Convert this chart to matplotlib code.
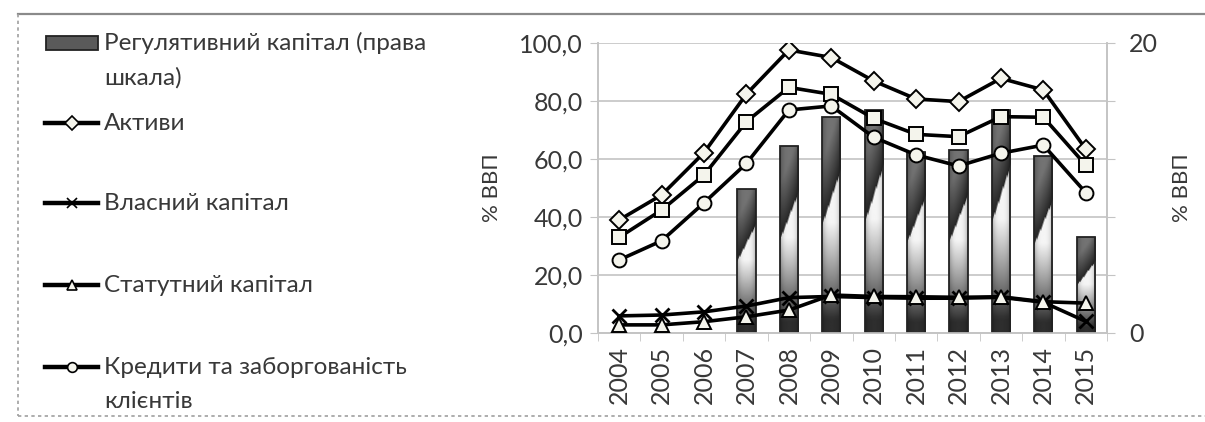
""" Bank sector indicators of Ukraine, % of GDP, 2004-2015 """

import numpy as np
import matplotlib.pyplot as plt
from matplotlib.lines import Line2D
from matplotlib.patches import Rectangle

plt.rcParams['font.family'] = ['Lato', 'DejaVu Sans']

## Data
years = ['2004', '2005', '2006', '2007', '2008', '2009',
         '2010', '2011', '2012', '2013', '2014', '2015']
reg_capital = [np.nan, np.nan, np.nan, 9.9, 12.9, 14.9,
               15.4, 12.5, 12.6, 15.4, 12.2, 6.6]          # right axis
assets = [39.0, 47.6, 62.2, 82.4, 97.6, 95.0, 86.9, 80.7, 79.8, 87.8, 83.8, 63.4]
liabilities = [33.0, 42.4, 54.5, 72.9, 84.7, 82.3, 74.0, 68.5, 67.7, 74.6, 74.4, 57.9]
loans = [25.2, 31.8, 44.9, 58.5, 76.9, 78.3, 67.5, 61.4, 57.6, 62.0, 64.8, 48.4]
equity = [5.9, 6.2, 7.3, 9.3, 12.2, 12.6, 12.2, 12.0, 12.0, 12.3, 10.6, 4.0]
charter = [2.8, 2.8, 3.9, 5.6, 7.9, 13.1, 12.6, 12.5, 12.3, 12.5, 10.8, 10.3]

legend_labels = [['Регулятивний капітал (права', 'шкала)'],
                 ['Активи'],
                 ['Власний капітал'],
                 ['Статутний капітал'],
                 ['Кредити та заборгованість', 'клієнтів']]

TXT = '#383838'
GRID = '#c4c4c4'
W, H = 1205, 422


def bar_gradient(n=60, m=20):
    # grey fill with a dark diagonal wedge, like the original Excel fill
    v = np.linspace(1, 0, n)[:, None]
    u = np.linspace(0, 1, m)[None, :]
    d = v - (0.5 + 0.25 * u)
    below = 0.18 + 0.78 * np.clip((v - 0.06) / 0.45, 0, 1) ** 0.9
    above = 0.15 + 0.3 * np.clip(d / 0.3, 0, 1)
    val = np.where(d > 0, above, below)
    edge = 1 - 0.25 * np.abs(2 * u - 1) ** 3
    return val * edge


fig = plt.figure(figsize=(W / 100, H / 100), dpi=100)
ax = fig.add_axes([598 / W, 1 - 333 / H, (1107 - 598) / W, (333 - 43) / H])
ax2 = ax.twinx()

x = np.arange(len(years))

## bars on the right axis, behind the lines
bars = ax2.bar(x, reg_capital, width=0.43, facecolor='none',
               edgecolor='#222222', linewidth=1.3, zorder=3)
grad = bar_gradient()
for xi, b in zip(x, bars):
    h = b.get_height()
    if np.isnan(h):
        continue
    im = ax2.imshow(grad, extent=[b.get_x(), b.get_x() + b.get_width(), 0, h],
                    aspect='auto', cmap='gray', vmin=0, vmax=1, zorder=2,
                    interpolation='bilinear')
    im.set_clip_path(b)

ax2.set_xlim(-0.5, 11.5)
ax2.set_ylim(0, 20)
ax2.set_yticks([0, 4, 8, 12, 16, 20])
ax2.set_yticklabels(['0', '', '', '', '', '20'])
ax2.yaxis.grid(True, color=GRID, linewidth=1.2, zorder=0)
ax2.set_axisbelow(True)
ax2.tick_params(axis='y', colors=GRID, labelcolor=TXT, labelsize=18,
                length=6, pad=10)
ax2.set_ylabel('% ВВП', color=TXT, fontsize=16, labelpad=10)

## lines on the left axis, above the bars
ax.set_zorder(ax2.get_zorder() + 1)
ax.patch.set_visible(False)

mk = dict(color='black', linewidth=2.6, markeredgecolor='black',
          markeredgewidth=1.4, markerfacecolor='#f4f4ec')
ax.plot(x, assets, marker='D', markersize=9, zorder=4, **mk)
ax.plot(x, liabilities, marker='s', markersize=10, zorder=4, **mk)
ax.plot(x, loans, marker='o', markersize=10, zorder=5, **mk)
ax.plot(x, equity, marker='x', markersize=10, zorder=4,
        **dict(mk, markeredgewidth=2))
ax.plot(x, charter, marker='^', markersize=10, zorder=5, **mk)

ax.set_xlim(-0.5, 11.5)
ax.set_ylim(0, 100)
ax.set_yticks([0, 20, 40, 60, 80, 100])
ax.set_yticklabels(['0,0', '20,0', '40,0', '60,0', '80,0', '100,0'])
ax.set_xticks(x)
ax.set_xticklabels(years, rotation=90)
ax.set_xticks(np.arange(-0.5, 12, 1), minor=True)
ax.tick_params(axis='x', which='major', length=0, labelsize=18,
               labelcolor=TXT, pad=9)
ax.tick_params(axis='x', which='minor', length=6, color=GRID)
ax.tick_params(axis='y', colors=GRID, labelcolor=TXT, labelsize=18,
               length=6, pad=5)
ax.set_ylabel('% ВВП', color=TXT, fontsize=16, labelpad=12)

for a in (ax, ax2):
    for s in a.spines.values():
        s.set_color(GRID)
        s.set_linewidth(1.2)
    a.spines['top'].set_visible(False)

## legend, drawn by hand to keep the Excel spacing
def fx(px):
    return px / W


def fy(py):
    return 1 - py / H


entry_y = [43, 123, 203, 285, 367]
handles = [None, 'D', 'x', '^', 'o']
for yy, hm, lab in zip(entry_y, handles, legend_labels):
    if hm is None:
        fig.add_artist(Rectangle((fx(46), fy(yy + 7)), fx(52), 14 / H,
                                 facecolor='#5a5a5a', edgecolor='#222222',
                                 linewidth=1.3))
    else:
        fig.add_artist(Line2D([fx(45), fx(98)], [fy(yy), fy(yy)],
                              marker=None, color='black', linewidth=3.2))
        fig.add_artist(Line2D([fx(71.5)], [fy(yy)], marker=hm,
                              markersize=7, color='black',
                              markerfacecolor='#f4f4ec', markeredgewidth=1.2))
    for i, line in enumerate(lab):
        fig.text(fx(104), fy(yy + 35 * i), line, fontsize=17.5, color=TXT,
                 va='center')

## outer frame
fig.add_artist(Line2D([fx(18), fx(1205)], [fy(14), fy(14)],
                      color='#8a8a8a', linewidth=1.6))
fig.add_artist(Line2D([fx(18), fx(18)], [fy(14), fy(416)],
                      color='#a0a0a0', linewidth=1.2, linestyle=(0, (2, 2))))
fig.add_artist(Line2D([fx(18), fx(1205)], [fy(416), fy(416)],
                      color='#a0a0a0', linewidth=1.2, linestyle=(0, (2, 2))))

fig.savefig('out.png', dpi=100)
